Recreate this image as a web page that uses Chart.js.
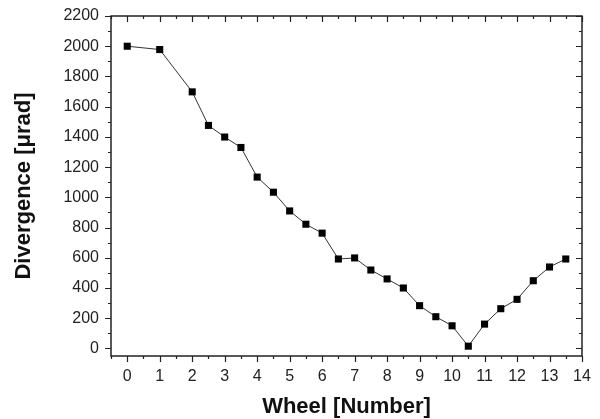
<!DOCTYPE html>
<html>
<head>
<meta charset="utf-8">
<script src="https://cdn.jsdelivr.net/npm/chart.js@4"></script>
<style>
  html, body { margin: 0; padding: 0; background: #fff; }
  #wrap { width: 600px; height: 419px; }
</style>
</head>
<body>
<div id="wrap"><canvas id="chart"></canvas></div>
<script>
// wheel positions and measured divergence
const wheel = [0, 1, 2, 2.5, 3, 3.5, 4, 4.5, 5, 5.5, 6, 6.5, 7, 7.5, 8, 8.5, 9, 9.5, 10, 10.5, 11, 11.5, 12, 12.5, 13, 13.5];
const divergence = [2000, 1978, 1698, 1476, 1399, 1330, 1134, 1034, 910, 822, 763, 592, 599, 519, 460, 400, 283, 210, 150, 15, 161, 263, 325, 448, 539, 592];

const xTicks = [0, 1, 2, 3, 4, 5, 6, 7, 8, 9, 10, 11, 12, 13, 14];
const yTicks = [0, 200, 400, 600, 800, 1000, 1200, 1400, 1600, 1800, 2000, 2200];

const points = wheel.map((w, i) => ({ x: w, y: divergence[i] }));

const FONT = 'Liberation Sans, Arial, sans-serif';

// frame + Origin-style ticks (major and minor) on all four sides
const frameTicks = {
  id: 'frameTicks',
  afterDraw(chart) {
    const { ctx, chartArea: a, scales: { x, y } } = chart;
    ctx.save();
    ctx.strokeStyle = '#222';
    ctx.lineWidth = 1.5;
    ctx.strokeRect(a.left, a.top, a.right - a.left, a.bottom - a.top);
    ctx.lineWidth = 1.2;
    ctx.beginPath();
    for (let v = -0.5; v <= 14; v += 0.5) {
      const px = Math.round(x.getPixelForValue(v)) + 0.5;
      const len = Number.isInteger(v) ? 6 : 3;
      ctx.moveTo(px, a.bottom); ctx.lineTo(px, a.bottom + len);
      ctx.moveTo(px, a.top); ctx.lineTo(px, a.top + len);
    }
    for (let v = 0; v <= 2200; v += 100) {
      const py = Math.round(y.getPixelForValue(v)) + 0.5;
      const len = v % 200 === 0 ? 6 : 3;
      ctx.moveTo(a.left, py); ctx.lineTo(a.left - len, py);
      ctx.moveTo(a.right, py); ctx.lineTo(a.right - len, py);
    }
    ctx.stroke();
    ctx.restore();
  }
};

new Chart(document.getElementById('chart'), {
  type: 'scatter',
  data: {
    datasets: [{
      data: points,
      showLine: true,
      borderColor: '#333',
      borderWidth: 1,
      pointStyle: 'rect',
      pointRadius: 5,
      pointHoverRadius: 5,
      pointBackgroundColor: '#000',
      pointBorderColor: '#000',
      pointBorderWidth: 0
    }]
  },
  options: {
    responsive: true,
    maintainAspectRatio: false,
    animation: false,
    layout: { padding: { top: 16, right: 18, left: 0, bottom: 0 } },
    plugins: { legend: { display: false }, tooltip: { enabled: false } },
    scales: {
      x: {
        type: 'linear',
        min: -0.5,
        max: 14,
        afterBuildTicks: s => { s.ticks = xTicks.map(v => ({ value: v })); },
        afterFit: s => { s.height = 63; s.paddingLeft = 0; s.paddingRight = 0; },
        grid: { display: false, drawTicks: false },
        border: { display: false },
        ticks: {
          padding: 11,
          maxRotation: 0,
          color: '#222',
          callback: v => String(v),
          font: { family: FONT, size: 16 }
        },
        title: {
          display: true,
          text: 'Wheel [Number]',
          color: '#111',
          padding: { top: 0, bottom: -1 },
          font: { family: FONT, size: 22, weight: 'bold' }
        }
      },
      y: {
        min: -50,
        max: 2200,
        afterBuildTicks: s => { s.ticks = yTicks.map(v => ({ value: v })); },
        afterFit: s => { s.width = 111; s.paddingTop = 0; s.paddingBottom = 0; },
        grid: { display: false, drawTicks: false },
        border: { display: false },
        ticks: {
          padding: 12,
          color: '#222',
          callback: v => String(v),
          font: { family: FONT, size: 16 }
        },
        title: {
          display: true,
          text: 'Divergence [μrad]',
          color: '#111',
          padding: { top: 11, bottom: 0 },
          font: { family: FONT, size: 22, weight: 'bold' }
        }
      }
    }
  },
  plugins: [frameTicks]
});
</script>
</body>
</html>
